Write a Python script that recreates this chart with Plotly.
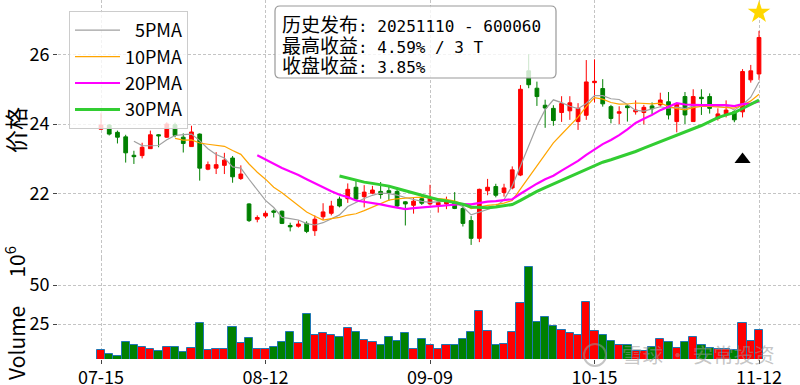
import numpy as np
import pandas as pd
import plotly.graph_objects as go

# ---------------- data ----------------
dates = ["07-15","07-16","07-17","07-18","07-21","07-22","07-23","07-24","07-25","07-28",
         "07-29","07-30","07-31","08-01","08-04","08-05","08-06","08-07","08-08","08-11",
         "08-12","08-13","08-14","08-15","08-18","08-19","08-20","08-21","08-22","08-25",
         "08-26","08-27","08-28","08-29","09-01","09-02","09-03","09-04","09-05","09-08",
         "09-09","09-10","09-11","09-12","09-15","09-16","09-17","09-18","09-19","09-22",
         "09-23","09-24","09-25","09-26","09-29","09-30","10-09","10-10","10-13","10-14",
         "10-15","10-16","10-17","10-20","10-21","10-22","10-23","10-24","10-27","10-28",
         "10-29","10-30","10-31","11-03","11-04","11-05","11-06","11-07","11-10","11-11",
         "11-12"]

opens = [23.85,23.97,23.76,23.63,23.10,23.09,23.29,23.69,23.62,23.98,
         23.62,23.35,23.71,22.70,22.73,22.81,23.02,22.43,21.70,21.26,
         21.35,21.50,21.49,21.08,21.06,21.14,20.93,21.33,21.43,21.84,
         21.85,22.18,21.91,22.01,22.06,22.08,22.06,21.76,21.66,21.85,
         21.70,21.67,21.70,21.77,21.57,21.22,20.71,22.08,22.20,22.03,
         22.16,22.53,25.53,25.03,24.54,24.45,24.33,24.38,24.07,24.25,
         25.19,25.02,24.50,24.31,24.52,24.35,24.33,24.52,24.55,24.64,
         24.07,24.79,24.07,24.77,24.79,24.16,24.29,24.35,24.35,25.27,
         25.44]
highs = [24.31,24.00,23.81,23.69,23.23,23.46,23.81,23.71,24.05,24.04,
         23.73,23.95,23.73,22.92,23.19,23.17,23.08,22.81,21.72,21.37,
         21.49,21.54,21.51,21.16,21.23,21.20,21.37,21.72,21.79,21.91,
         22.29,22.41,22.24,22.22,22.33,22.19,22.12,21.78,21.87,21.93,
         22.25,21.82,21.91,22.04,21.67,21.35,22.14,22.42,22.28,22.28,
         22.78,25.12,26.01,25.22,24.70,24.54,24.80,24.80,24.60,25.84,
         25.86,25.29,24.55,24.51,24.55,24.68,24.55,24.62,24.90,24.92,
         24.61,24.92,25.00,25.00,24.88,24.45,24.68,24.40,25.58,25.70,
         26.68]
lows = [23.83,23.67,23.44,22.89,22.85,23.01,23.29,23.33,23.60,23.62,
        23.18,23.35,22.37,22.67,22.56,22.56,22.31,22.39,21.18,21.17,
        21.29,21.31,21.12,20.91,21.02,20.86,20.78,21.24,21.37,21.60,
        21.73,21.82,21.60,21.98,21.85,21.79,21.60,21.08,21.42,21.67,
        21.66,21.45,21.55,21.55,21.05,20.52,20.60,21.95,21.89,21.91,
        22.12,22.50,25.03,24.52,23.89,23.95,24.06,24.12,23.83,24.12,
        24.62,24.50,24.02,24.00,24.07,24.27,23.99,24.28,24.50,24.13,
        23.76,24.00,24.07,24.26,24.30,24.10,24.19,24.05,24.19,25.19,
        25.27]
closes = [23.97,23.71,23.62,23.17,23.06,23.33,23.69,23.66,24.00,23.67,
          23.44,23.77,22.73,22.83,22.83,22.96,22.48,22.56,21.22,21.31,
          21.43,21.46,21.14,21.04,21.12,20.91,21.26,21.47,21.64,21.64,
          22.12,21.84,22.04,22.10,21.97,22.02,21.64,21.70,21.78,21.72,
          21.88,21.74,21.77,21.57,21.14,20.71,22.12,22.18,21.95,22.16,
          22.68,25.00,25.13,24.79,24.46,24.10,24.59,24.61,24.45,25.21,
          25.23,24.58,24.16,24.35,24.47,24.40,24.48,24.44,24.69,24.26,
          24.57,24.26,24.79,24.73,24.45,24.29,24.40,24.12,25.51,25.53,
          26.49]
volumes = [8.3,5.8,4.5,13.3,11.5,10.5,8.8,7.5,10.5,10.5,
           6.8,9.8,25.8,8.1,9.2,9.2,23.1,12.6,16.2,9.2,
           9.2,10.5,13.3,19.7,12.6,31.2,17.7,19.0,18.2,16.5,
           22.2,19.7,15.0,13.3,11.5,16.6,14.1,19.0,8.8,15.2,
           11.5,8.8,11.3,11.3,15.6,19.7,33.3,20.3,11.3,12.0,
           19.7,38.5,61.3,26.1,29.3,23.5,21.2,19.0,17.7,38.9,
           20.7,17.7,13.9,11.3,11.3,7.9,7.7,10.5,15.2,13.3,
           9.8,13.3,16.7,11.3,9.8,8.8,9.2,8.3,25.4,13.9,
           21.2]

tick_labels = ["07-15", "08-12", "09-09", "10-15", "11-12"]
price_ticks = [22, 24, 26]
volume_ticks = [25, 50]
ma_windows = [5, 10, 20, 30]
ma_names = ["\u20075PMA", "10PMA", "20PMA", "30PMA"]
ma_colors = ["#a0a0a0", "#ffa500", "#ff00ff", "#32cd32"]
ma_widths = [1.2, 1.2, 2.2, 3.0]
release_date = "11-10"
hold_days = 3
info_heads = ["历史发布", "最高收益", "收盘收益"]
info_values = [": 20251110 - 600060", ": 4.59% / 3 T", ": 3.85%"]
watermark = "雪球 · 安常投资"

# ---------------- geometry helpers ----------------
W, H = 800, 385
ML, MR, MT, MB = 58, 0, 0, 26
PW, PH = W - ML - MR, H - MT - MB
SPLIT = 258  # pixel row where price panel meets volume panel

def px(xp):
    return (xp - ML) / PW

def py(yp):
    return (H - MB - yp) / PH

FONT = "Noto Sans CJK SC, Noto Sans, sans-serif"
MONO = "DejaVu Sans Mono"
x = list(range(len(dates)))
close_s = pd.Series(closes)

fig = go.Figure()

# candles
fig.add_trace(go.Candlestick(
    x=x, open=opens, high=highs, low=lows, close=closes,
    increasing=dict(line=dict(color="#ff0000", width=1), fillcolor="#ff0000"),
    decreasing=dict(line=dict(color="#008000", width=1), fillcolor="#008000"),
    whiskerwidth=0, showlegend=False, hoverinfo="skip",
    xaxis="x", yaxis="y"))

# moving averages
for w, name, col, lw in zip(ma_windows, ma_names, ma_colors, ma_widths):
    ma = close_s.rolling(w).mean()
    fig.add_trace(go.Scatter(x=x, y=ma, mode="lines", name=name,
                             line=dict(color=col, width=lw),
                             xaxis="x", yaxis="y"))

# signal markers
rel_idx = dates.index(release_date)
win = list(range(rel_idx, min(rel_idx + hold_days, len(dates))))
star_idx = max(win, key=lambda i: highs[i])
fig.add_trace(go.Scatter(x=[rel_idx], y=[lows[rel_idx] * 0.95], mode="markers",
                         marker=dict(symbol="triangle-up", color="black", size=14),
                         showlegend=False, xaxis="x", yaxis="y"))
fig.add_trace(go.Scatter(x=[star_idx], y=[highs[star_idx] * 1.02], mode="markers",
                         marker=dict(symbol="star", color="#ffd700", size=17,
                                     line=dict(width=0)),
                         showlegend=False, xaxis="x", yaxis="y"))

# volume
vcols = ["#ff0000" if c >= o else "#008000" for o, c in zip(opens, closes)]
fig.add_trace(go.Bar(x=x, y=volumes, marker=dict(color=vcols, line=dict(color="#1f77b4", width=1)),
                     width=1.0, showlegend=False, xaxis="x2", yaxis="y2"))

# ---------------- axes ----------------
xr = [(ML - 101) / 8.225, (W - MR - 101) / 8.225]
tickvals = [dates.index(t) for t in tick_labels]
grid = dict(showgrid=True, gridcolor="#c4c4c4", gridwidth=0.8, griddash="3px,2px", zeroline=False,
            showline=False, automargin=False)
p_top = 24 + 124 / 34.75
p_bot = 24 - (SPLIT - 124) / 34.75
v_bot = (363 - (H - MB)) / 1.56
v_top = (363 - SPLIT) / 1.56
dom_split = py(SPLIT)

fig.update_layout(
    width=W, height=H, margin=dict(l=ML, r=MR, t=MT, b=MB, autoexpand=False),
    paper_bgcolor="white", plot_bgcolor="white",
    font=dict(family=FONT, size=18, color="black"),
    bargap=0, boxgap=0.35,
    xaxis=dict(domain=[0, 1], range=xr, anchor="y", tickvals=tickvals, showticklabels=False,
               ticks="", rangeslider=dict(visible=False), **grid),
    xaxis2=dict(domain=[0, 1], range=xr, anchor="y2", tickvals=tickvals, ticktext=tick_labels,
                ticks="outside", ticklen=4, tickcolor="#444", tickfont=dict(size=18),
                ticklabelstandoff=-2, **grid),
    yaxis=dict(domain=[dom_split, 1], range=[p_bot, p_top], tickvals=price_ticks,
               ticks="outside", ticklen=4, tickcolor="#444", tickfont=dict(size=18), **grid),
    yaxis2=dict(domain=[0, dom_split], range=[v_bot, v_top], tickvals=volume_ticks,
                ticks="outside", ticklen=4, tickcolor="#444", tickfont=dict(size=18), **grid),
    legend=dict(x=px(69), y=py(11), xanchor="left", yanchor="top", itemwidth=45,
                bgcolor="rgba(255,255,255,0.8)", bordercolor="#cccccc", borderwidth=1,
                font=dict(size=18, family=FONT)),
    showlegend=True,
)

# info box (rounded) + text lines
def rounded_path(x0, y0, x1, y1, r):
    P = lambda a, b: f"{px(a):.5f},{py(b):.5f}"
    return (f"M {P(x0+r,y0)} L {P(x1-r,y0)} Q {P(x1,y0)} {P(x1,y0+r)} "
            f"L {P(x1,y1-r)} Q {P(x1,y1)} {P(x1-r,y1)} L {P(x0+r,y1)} "
            f"Q {P(x0,y1)} {P(x0,y1-r)} L {P(x0,y0+r)} Q {P(x0,y0)} {P(x0+r,y0)} Z")

fig.add_shape(type="path", xref="paper", yref="paper", path=rounded_path(275, 6, 556, 78, 5),
              fillcolor="rgba(255,255,255,0.8)", line=dict(color="#999999", width=1.2), layer="above")
for k, (head, val) in enumerate(zip(info_heads, info_values)):
    txt = head + f"<span style=\"font-family:'{MONO}';font-size:16px\">{val}</span>"
    fig.add_annotation(xref="paper", yref="paper", x=px(280), y=py(23.5 + 20.5 * k),
                       xanchor="left", yanchor="middle", text=txt, showarrow=False,
                       font=dict(size=19, family=FONT, color="black"))

# axis labels
fig.add_annotation(xref="paper", yref="paper", x=px(15), y=py(130), text="价格", textangle=-90,
                   showarrow=False, font=dict(size=23, family=FONT), xanchor="center", yanchor="middle")
fig.add_annotation(xref="paper", yref="paper", x=px(15), y=py(313),
                   text="Volume\u00a0\u00a0\u00a0\u00a0\u00a0\u00a010<sup>6</sup>",
                   textangle=-90, showarrow=False, font=dict(size=21, family=FONT),
                   xanchor="center", yanchor="middle")

# watermark
fig.add_shape(type="circle", xref="paper", yref="paper", x0=px(584), x1=px(606), y0=py(344), y1=py(366),
              line=dict(color="rgba(150,150,150,0.55)", width=2), layer="above")
fig.add_annotation(xref="paper", yref="paper", x=px(698), y=py(354), text=watermark, showarrow=False,
                   font=dict(size=20.5, family=FONT, color="rgba(150,150,150,0.55)"),
                   xanchor="center", yanchor="middle")

fig.write_html("out.html", config={"displayModeBar": False},
               post_script="document.body.style.margin='0px';")
